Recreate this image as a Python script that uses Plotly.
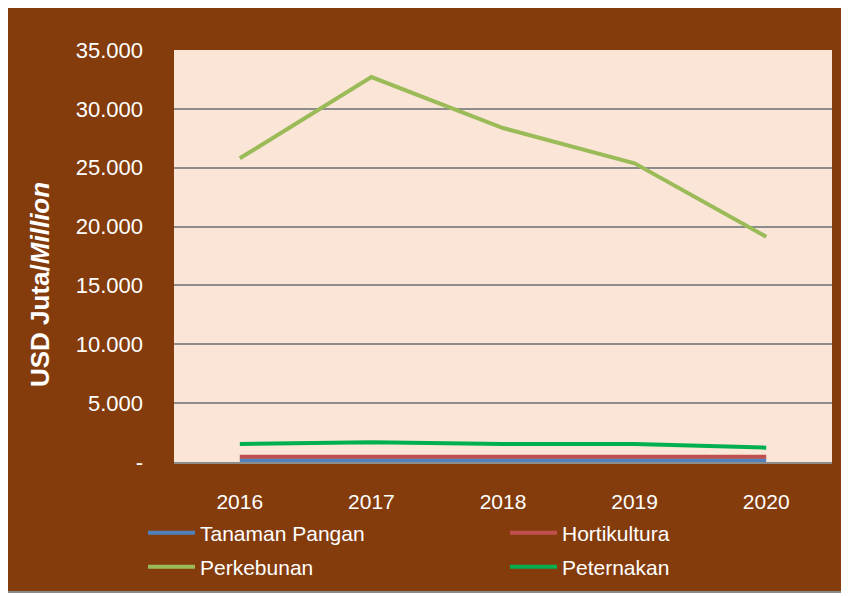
import plotly.graph_objects as go

years = ["2016", "2017", "2018", "2019", "2020"]
tanaman_pangan = [150, 150, 150, 150, 150]
hortikultura = [450, 450, 450, 450, 450]
perkebunan = [25800, 32700, 28370, 25370, 19140]
peternakan = [1530, 1670, 1530, 1530, 1220]

series_names = ["Tanaman Pangan", "Hortikultura", "Perkebunan", "Peternakan"]
series_values = [tanaman_pangan, hortikultura, perkebunan, peternakan]
series_colors = ["#4F81BD", "#C0504D", "#9BBB59", "#00B050"]
series_legend = ["legend", "legend", "legend2", "legend2"]

y_tickvals = [0, 5000, 10000, 15000, 20000, 25000, 30000, 35000]
y_ticktext = ["-"] + [f"{v:,}".replace(",", ".") for v in y_tickvals[1:]]

BROWN = "#843C0C"
PINK = "#FBE5D6"
FONT = "Liberation Sans, Arial, sans-serif"

fig = go.Figure()
for name, vals, col, lg in zip(series_names, series_values, series_colors, series_legend):
    fig.add_trace(go.Scatter(x=years, y=vals, mode="lines", name=name,
                             line=dict(color=col, width=4), legend=lg))

# page places the figure at an 8px offset; target plot area pixel box: x 174..832, y 50..462
OFF = 8
W, H = 849, 596
L, T = 174 - OFF, 50 - OFF
R, B = W - (832 - OFF), H - (462 - OFF)
pw, ph = W - L - R, H - T - B

def px(x):
    return (x - OFF - L) / pw

def py(y):
    return (H - B - (y - OFF)) / ph

fig.add_shape(type="rect", xref="paper", yref="paper",
              x0=px(6), x1=px(845), y0=py(592), y1=py(4),
              fillcolor=BROWN, line=dict(color="#8C8C8C", width=2), layer="below")
fig.add_shape(type="rect", xref="paper", yref="paper",
              x0=0, x1=1, y0=0, y1=1,
              fillcolor=PINK, line=dict(width=0), layer="below")

fig.add_annotation(text="<b>USD Juta/<i>Million</i></b>", xref="paper", yref="paper",
                   x=px(40), y=py(285), textangle=-90, showarrow=False,
                   xanchor="center", yanchor="middle",
                   font=dict(size=26, color="white"))

fig.update_layout(
    width=W, height=H,
    margin=dict(l=L, r=R, t=T, b=B, autoexpand=False),
    paper_bgcolor="white",
    plot_bgcolor="rgba(0,0,0,0)",
    font=dict(family=FONT, size=22, color="white"),
    showlegend=True,
    legend=dict(orientation="h", x=px(143), xanchor="left", y=py(533), yanchor="middle",
                bgcolor="rgba(0,0,0,0)", font=dict(size=21, color="white"),
                entrywidth=300, entrywidthmode="pixels", itemwidth=47),
    legend2=dict(orientation="h", x=px(143), xanchor="left", y=py(567), yanchor="middle",
                 bgcolor="rgba(0,0,0,0)", font=dict(size=21, color="white"),
                 entrywidth=300, entrywidthmode="pixels", itemwidth=47),
    xaxis=dict(type="category", range=[-0.5, 4.5], showgrid=False, showline=True,
               linecolor="#8C8C8C", linewidth=2, ticks="",
               tickfont=dict(size=21, color="white"), automargin=False,
               ticklabelstandoff=20, fixedrange=True),
    yaxis=dict(range=[0, 35000], tickvals=y_tickvals, ticktext=y_ticktext,
               showgrid=True, gridcolor="#8C8C8C", gridwidth=2, zeroline=False,
               showline=False, ticks="", tickfont=dict(size=22, color="white"),
               ticklabelstandoff=30, automargin=False),
)

fig.write_html("out.html")
